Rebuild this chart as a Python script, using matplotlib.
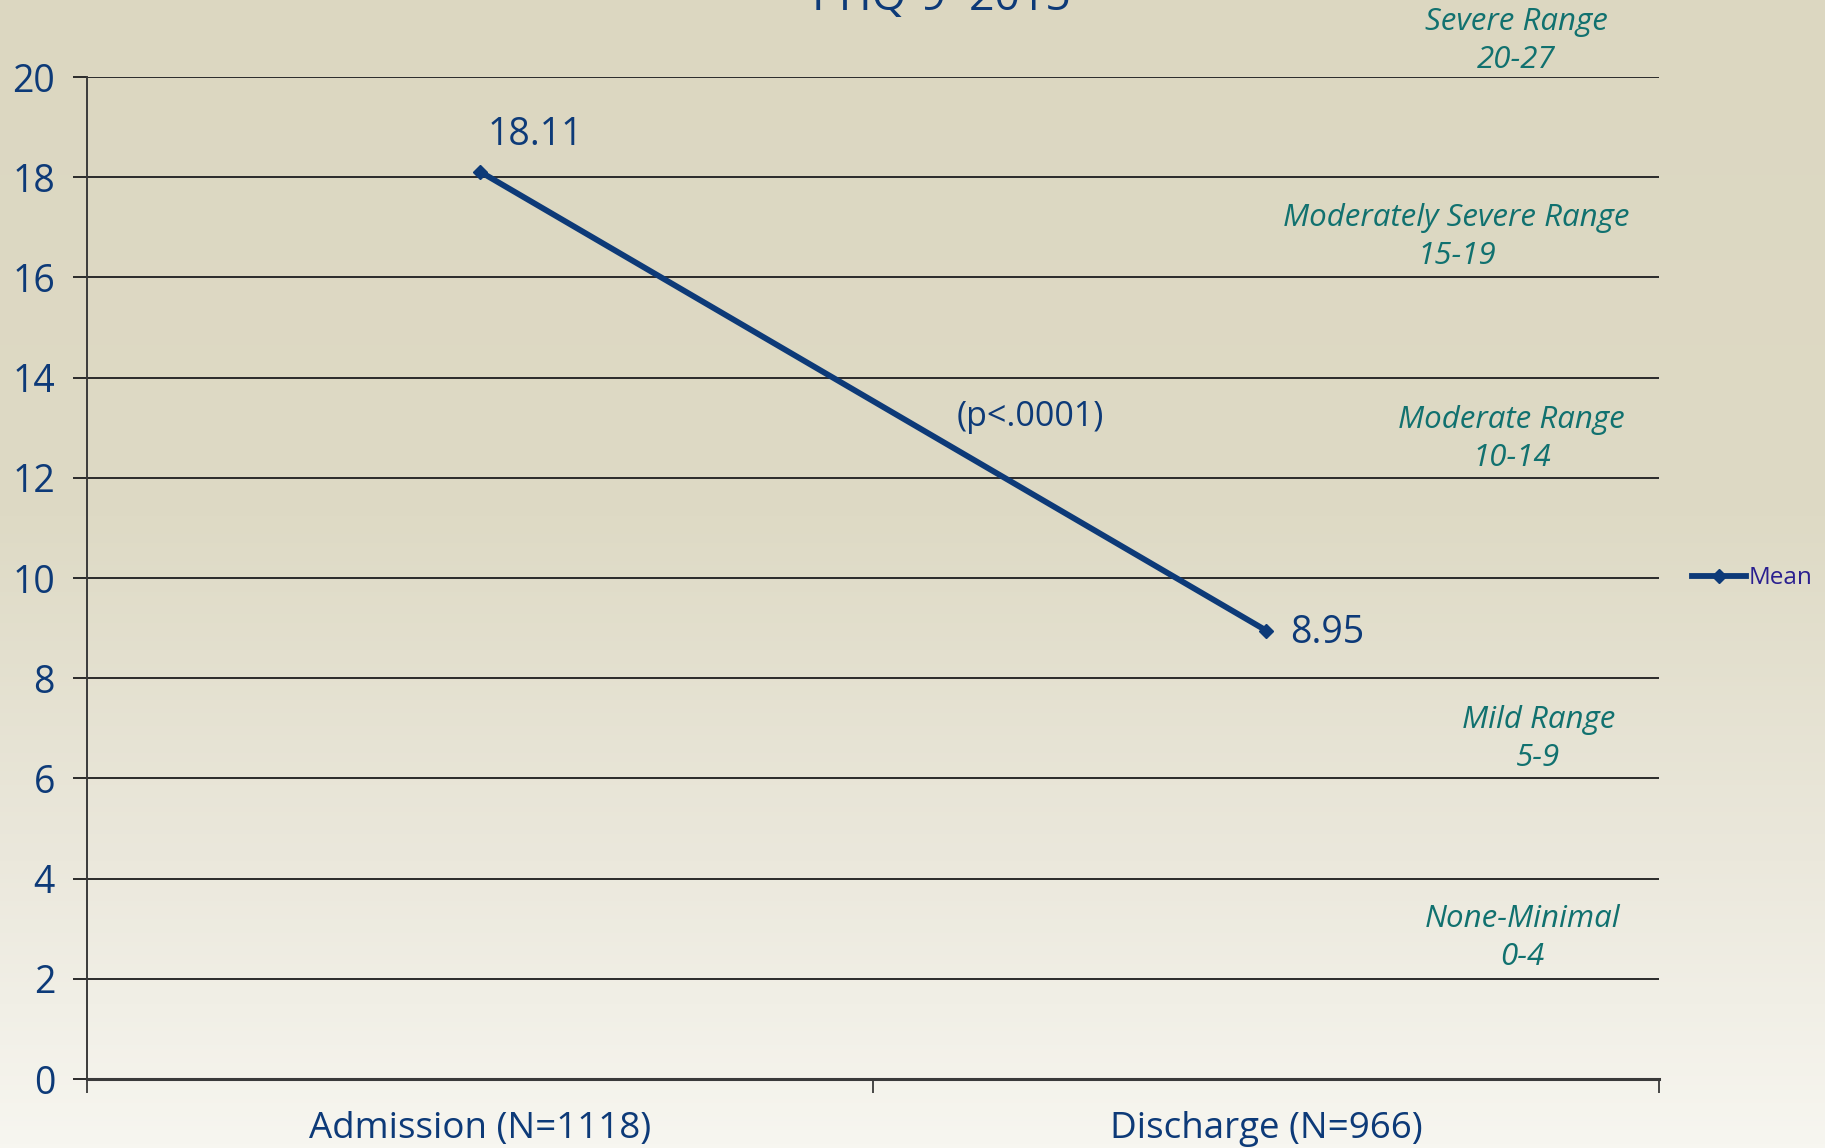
import numpy as np
import matplotlib
matplotlib.use("Agg")
import matplotlib.pyplot as plt
from matplotlib.colors import LinearSegmentedColormap

# Data
categories = ["Admission (N=1118)", "Discharge (N=966)"]
means = [18.11, 8.95]
value_labels = ["18.11", "8.95"]
range_names = ["Severe Range\n20-27", "Moderately Severe Range\n15-19",
               "Moderate Range\n10-14", "Mild Range\n5-9", "None-Minimal\n0-4"]
range_y = [20.71, 16.80, 12.77, 6.78, 2.81]
range_x = [0.909, 0.871, 0.906, 0.923, 0.913]
y_ticks = list(range(0, 21, 2))

navy = "#0d3a78"
teal = "#11716f"
plt.rcParams["font.family"] = ["Open Sans", "DejaVu Sans"]

fig = plt.figure(figsize=(18.25, 11.48), dpi=100)

# background gradient
bg = fig.add_axes([0, 0, 1, 1], zorder=-10)
cmap = LinearSegmentedColormap.from_list(
    "bg", [(0, "#dcd7c1"), (0.45, "#dedac5"), (0.75, "#ebe8dc"), (1, "#f7f6f0")])
grad = np.linspace(0, 1, 256).reshape(-1, 1)
bg.imshow(grad, cmap=cmap, aspect="auto", extent=[0, 1, 0, 1])
bg.axis("off")

ax = fig.add_axes([0.0477, 0.0601, 0.8616, 0.8728])
ax.patch.set_alpha(0)

for y in y_ticks[1:]:
    ax.axhline(y, color="#2a2a2a", lw=1.4, zorder=1)

x = np.arange(len(categories))
ax.plot(x, means, color=navy, lw=4.2, marker="D", markersize=7.5, label="Mean", zorder=3)

ax.set_xlim(-0.5, 1.5)
ax.set_ylim(0, 20)
ax.set_yticks(y_ticks)
ax.set_xticks(x)
ax.set_xticklabels(categories)
ax.set_xticks([-0.5, 0.5, 1.5], minor=True)
ax.tick_params(axis="x", which="major", length=0, pad=23, labelsize=26.5, labelcolor=navy)
ax.tick_params(axis="x", which="minor", length=10, width=1.2, color="#2a2a2a")
ax.tick_params(axis="y", length=10, width=1.4, color="#2a2a2a", pad=13,
               labelsize=27, labelcolor=navy)

for s in ["top", "right"]:
    ax.spines[s].set_visible(False)
ax.spines["left"].set_color("#3a3a3a")
ax.spines["left"].set_linewidth(1.4)
ax.spines["bottom"].set_color("#3a3a3a")
ax.spines["bottom"].set_linewidth(2.2)

# value labels
ax.text(x[0] + 0.01, 18.84, value_labels[0], color=navy, fontsize=27,
        ha="left", va="center")
ax.text(x[1] + 0.03, 8.90, value_labels[1], color=navy, fontsize=27,
        ha="left", va="center")
ax.text(0.70, 13.22, "(p<.0001)", color=navy, fontsize=24.5, ha="center", va="center")

for name, rx, ry in zip(range_names, range_x, range_y):
    ax.text(rx, ry, name, transform=ax.get_yaxis_transform(), color=teal,
            fontsize=22.5, style="italic", ha="center", va="center", linespacing=1.35)

leg = ax.legend(loc="center left", bbox_to_anchor=(1.007, 0.5), frameon=False,
                fontsize=17.5, labelcolor="#2a1f8f", handlelength=2.2, handletextpad=0.1)

# title, mostly clipped at top as in the original
fig.text(0.516, 1 - 10 / 1148, "PHQ-9  2015", color=navy, fontsize=32,
         ha="center", va="baseline")

fig.savefig("out.png", dpi=100)
